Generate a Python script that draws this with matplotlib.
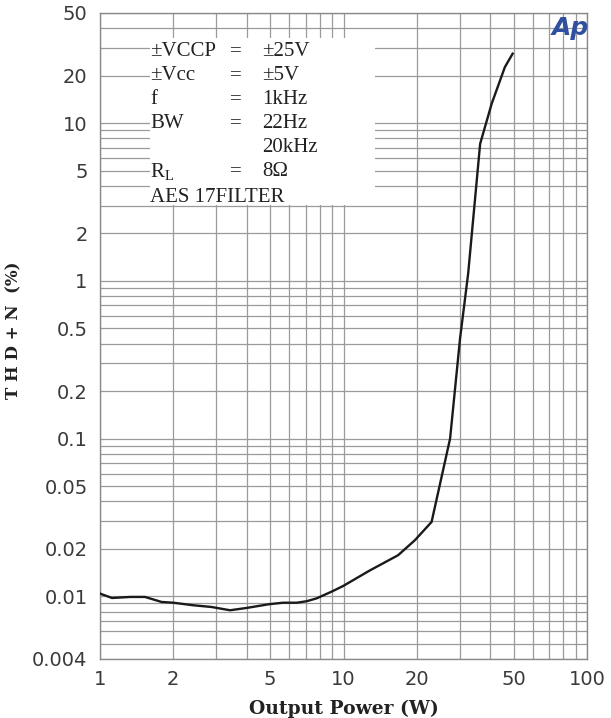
import matplotlib
matplotlib.use("Agg")
import matplotlib.pyplot as plt
from matplotlib.ticker import LogLocator, NullFormatter, FixedLocator, FixedFormatter
from matplotlib.patches import Rectangle

# THD+N versus output power
power_w = [1.0, 1.12, 1.33, 1.53, 1.79, 2.0, 2.41, 2.87, 3.42, 4.0, 4.94, 5.64,
           6.43, 7.06, 7.76, 8.94, 9.95, 12.85, 14.35, 16.75, 19.66, 23.0,
           27.4, 30.1, 32.5, 36.4, 40.6, 46.0, 49.5]
thd_pct = [0.0104, 0.00975, 0.0099, 0.0099, 0.0092, 0.0091, 0.00877, 0.00855,
           0.00815, 0.00843, 0.0089, 0.0091, 0.0091, 0.0093, 0.0097, 0.0107,
           0.0116, 0.0146, 0.0160, 0.0182, 0.0227, 0.0296,
           0.10, 0.43, 1.11, 7.4, 13.3, 22.7, 27.6]

x_ticks = [1, 2, 5, 10, 20, 50, 100]
x_tick_labels = ["1", "2", "5", "10", "20", "50", "100"]
y_ticks = [0.004, 0.01, 0.02, 0.05, 0.1, 0.2, 0.5, 1, 2, 5, 10, 20, 50]
y_tick_labels = ["0.004", "0.01", "0.02", "0.05", "0.1", "0.2", "0.5",
                 "1", "2", "5", "10", "20", "50"]

cond_names = ["\u00b1VCCP", "\u00b1Vcc", "f", "BW", "", "R$_\\mathregular{L}$", "AES 17FILTER"]
cond_eq = ["=", "=", "=", "=", "", "=", ""]
cond_vals = ["\u00b125V", "\u00b15V", "1kHz", "22Hz", "20kHz", "8\u03a9", ""]

W, H = 611, 718
fig = plt.figure(figsize=(W / 100, H / 100), dpi=100)
ax = fig.add_axes([100 / W, 1 - 659 / H, 487 / W, 646 / H])

ax.plot(power_w, thd_pct, color="#1a1a1a", lw=1.7, solid_joinstyle="round", zorder=4)

ax.set_xscale("log")
ax.set_yscale("log")
ax.set_xlim(1, 100)
ax.set_ylim(0.004, 50)

ax.xaxis.set_major_locator(FixedLocator(x_ticks))
ax.xaxis.set_major_formatter(FixedFormatter(x_tick_labels))
ax.yaxis.set_major_locator(FixedLocator(y_ticks))
ax.yaxis.set_major_formatter(FixedFormatter(y_tick_labels))
for axis in (ax.xaxis, ax.yaxis):
    axis.set_minor_locator(LogLocator(base=10, subs=range(1, 10), numticks=30))
    axis.set_minor_formatter(NullFormatter())

ax.grid(True, which="both", color="#9a9a9a", lw=0.9, zorder=1)
ax.tick_params(which="both", length=0)
ax.tick_params(axis="y", pad=9, labelsize=14, labelcolor="#3a3a3a")
ax.tick_params(axis="x", pad=8, labelsize=14, labelcolor="#3a3a3a")
for lab in ax.get_xticklabels() + ax.get_yticklabels():
    lab.set_family("DejaVu Sans")
for s in ax.spines.values():
    s.set_color("#8a8a8a")
    s.set_linewidth(1.0)

ax.set_xlabel("Output Power (W)", family="DejaVu Serif", weight="bold",
              fontsize=13.5, color="#222222", labelpad=8)
ax.set_ylabel("T H D + N  (%)", family="DejaVu Serif", weight="bold",
              fontsize=12, color="#222222")
ax.yaxis.set_label_coords(-78 / 487, (659 - 330) / 646)

# conditions box
ax.add_patch(Rectangle((0.1027, 0.703), 0.462, 0.258, transform=ax.transAxes,
                       facecolor="white", edgecolor="none", zorder=2))
row_y = [52, 76, 100, 124, 148, 172, 197]
for yp, n, e, v in zip(row_y, cond_names, cond_eq, cond_vals):
    yy = 1 - yp / H
    kw = dict(family="Liberation Serif", fontsize=15, color="#222222",
              va="center", ha="left", zorder=5)
    fig.text(150 / W, yy, n, **kw)
    fig.text(230 / W, yy, e, **kw)
    fig.text(262 / W, yy, v, **kw)

fig.text(570 / W, 1 - 28 / H, "Ap", family="DejaVu Sans", weight="bold",
         style="italic", fontsize=18, color="#2f4f9f", ha="center", va="center")

fig.savefig("out.png", dpi=100, facecolor="white")
